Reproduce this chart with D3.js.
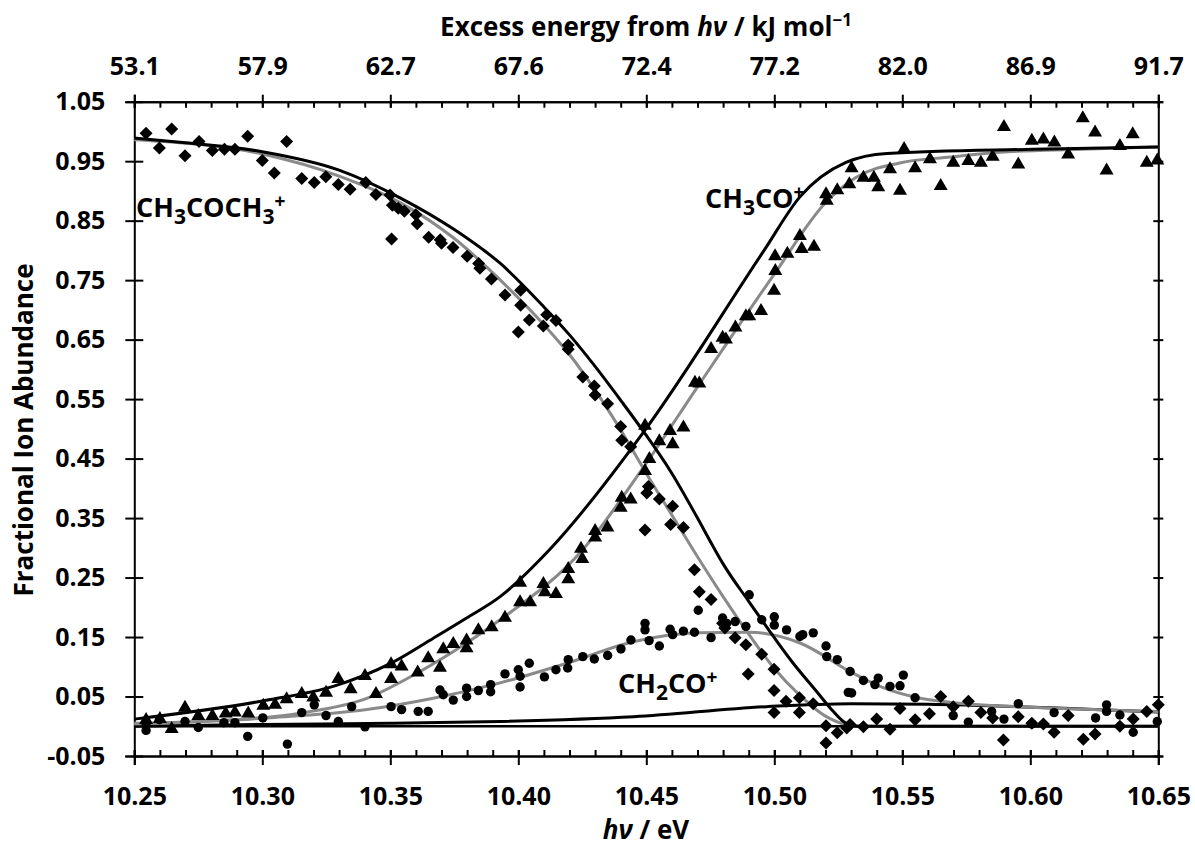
<!DOCTYPE html>
<html>
<head>
<meta charset="utf-8">
<script src="https://cdn.jsdelivr.net/npm/d3@7"></script>
<style>
  body { margin: 0; background: #fff; }
  svg text { font-family: "Open Sans", sans-serif; font-weight: 700; fill: #000; }
</style>
</head>
<body>
<svg width="1195" height="850"></svg>
<script>
// tick labels
var xTicks = [10.25, 10.30, 10.35, 10.40, 10.45, 10.50, 10.55, 10.60, 10.65];
var topLabels = ["53.1", "57.9", "62.7", "67.6", "72.4", "77.2", "82.0", "86.9", "91.7"];
var yTicks = [-0.05, 0.05, 0.15, 0.25, 0.35, 0.45, 0.55, 0.65, 0.75, 0.85, 0.95, 1.05];

// CH3COCH3+ (diamonds)
var acetone = [
  [10.2546,0.997],[10.2598,0.972],[10.2646,1.004],[10.2698,0.959],[10.2753,0.983],
  [10.2805,0.968],[10.2852,0.970],[10.2893,0.970],[10.2943,0.992],[10.3000,0.951],
  [10.3047,0.930],[10.3095,0.983],[10.3154,0.921],[10.3203,0.914],[10.3248,0.924],
  [10.3297,0.911],[10.3343,0.903],[10.3404,0.914],[10.3444,0.894],[10.3499,0.893],
  [10.3508,0.876],[10.3505,0.819],[10.3531,0.871],[10.3555,0.866],[10.3600,0.860],
  [10.3605,0.845],[10.3650,0.822],[10.3695,0.818],[10.3700,0.812],[10.3745,0.805],
  [10.3800,0.790],[10.3845,0.778],[10.3850,0.770],[10.3895,0.752],
  [10.3948,0.725],[10.4009,0.733],[10.4009,0.708],[10.4043,0.683],[10.4000,0.663],
  [10.4098,0.673],[10.4111,0.692],[10.4147,0.682],[10.4195,0.641],[10.4195,0.634],
  [10.4252,0.587],[10.4297,0.572],[10.4300,0.557],[10.4349,0.542],[10.4400,0.504],
  [10.4404,0.481],[10.4439,0.470],[10.4508,0.403],[10.4502,0.392],[10.4551,0.382],
  [10.4603,0.370],[10.4495,0.330],[10.4595,0.339],[10.4645,0.334],
  [10.4688,0.263],[10.4707,0.226],[10.4753,0.213],[10.4798,0.173],[10.4807,0.165],
  [10.4847,0.149],[10.4889,0.137],[10.4898,0.088],[10.4951,0.121],[10.4999,0.096],
  [10.4999,0.060],[10.4999,0.023],[10.5046,0.042],[10.5098,0.048],[10.5098,0.023],
  [10.5152,0.038],[10.5202,0.001],[10.5202,-0.028],[10.5246,-0.011],[10.5283,-0.003],
  [10.5296,0.003],[10.5348,-0.001],[10.5400,0.012],[10.5452,-0.005],[10.5491,0.030],
  [10.5550,0.011],[10.5606,0.021],[10.5650,0.050],[10.5699,0.033],[10.5758,0.042],
  [10.5807,0.023],[10.5853,0.014],[10.5895,-0.023],[10.5953,0.016],[10.6006,0.005],
  [10.6051,0.004],[10.6093,-0.010],[10.6148,0.018],[10.6207,-0.022],[10.6253,-0.013],
  [10.6350,0.000],[10.6402,0.012],[10.6455,0.025],[10.6500,0.036]
];

// CH3CO+ (triangles)
var acetyl = [
  [10.2546,0.012],[10.2600,0.014],[10.2646,-0.003],[10.2698,0.033],[10.2750,0.019],
  [10.2805,0.019],[10.2857,0.023],[10.2893,0.025],[10.2945,0.023],[10.3004,0.036],
  [10.3050,0.038],[10.3095,0.047],[10.3154,0.056],[10.3199,0.050],[10.3249,0.058],
  [10.3297,0.081],[10.3345,0.064],[10.3401,0.086],[10.3444,0.056],[10.3503,0.106],
  [10.3503,0.081],[10.3544,0.102],[10.3607,0.092],[10.3648,0.116],[10.3694,0.100],
  [10.3707,0.131],[10.3746,0.140],[10.3798,0.133],[10.3798,0.146],[10.3844,0.163],
  [10.3896,0.168],[10.3948,0.184],[10.4007,0.243],[10.4007,0.210],[10.4046,0.210],
  [10.4098,0.241],[10.4104,0.227],[10.4147,0.224],[10.4195,0.266],[10.4195,0.249],
  [10.4245,0.300],[10.4250,0.283],
  [10.4300,0.330],[10.4300,0.319],[10.4348,0.336],[10.4404,0.386],[10.4439,0.383],
  [10.4400,0.369],[10.4495,0.507],[10.4512,0.451],[10.4495,0.431],[10.4551,0.481],
  [10.4593,0.498],[10.4603,0.476],[10.4645,0.504],[10.4690,0.579],[10.4707,0.578],
  [10.4753,0.636],[10.4798,0.655],[10.4811,0.652],[10.4848,0.672],[10.4889,0.691],
  [10.4902,0.691],[10.4948,0.700],[10.4999,0.734],[10.5004,0.767],[10.5003,0.792],
  [10.5051,0.796],[10.5100,0.826],[10.5107,0.804],[10.5155,0.808],
  [10.5202,0.896],[10.5205,0.885],[10.5246,0.903],[10.5293,0.913],[10.5302,0.940],
  [10.5348,0.924],[10.5389,0.924],[10.5406,0.908],[10.5452,0.938],[10.5491,0.902],
  [10.5507,0.972],[10.5550,0.940],[10.5608,0.955],[10.5650,0.910],[10.5699,0.949],
  [10.5758,0.952],[10.5807,0.949],[10.5853,0.959],[10.5897,1.009],[10.5953,0.946],
  [10.6006,0.986],[10.6051,0.988],[10.6094,0.983],[10.6148,0.963],[10.6205,1.024],
  [10.6253,1.000],[10.6298,0.936],[10.6350,0.977],[10.6400,0.997],[10.6455,0.949],
  [10.6496,0.953]
];

// CH2CO+ (circles)
var ketene = [
  [10.2546,-0.007],[10.2546,0.004],[10.2598,0.011],[10.2698,0.008],[10.2750,-0.002],
  [10.2850,0.006],[10.2893,0.006],[10.2943,-0.017],[10.3002,0.014],[10.3098,-0.030],
  [10.3154,0.023],[10.3203,0.036],[10.3249,0.018],[10.3297,0.008],[10.3349,0.033],
  [10.3401,-0.001],[10.3503,0.033],[10.3544,0.028],[10.3609,0.025],[10.3648,0.025],
  [10.3694,0.061],[10.3707,0.053],[10.3746,0.044],[10.3798,0.064],[10.3798,0.050],
  [10.3844,0.060],[10.3892,0.070],[10.3892,0.058],
  [10.3948,0.088],[10.4000,0.095],[10.4007,0.084],[10.4007,0.066],[10.4043,0.106],
  [10.4102,0.083],[10.4147,0.095],[10.4193,0.098],[10.4195,0.112],[10.4252,0.117],
  [10.4297,0.113],[10.4349,0.119],[10.4401,0.130],[10.4440,0.145],[10.4495,0.173],
  [10.4495,0.162],[10.4511,0.144],[10.4551,0.135],[10.4593,0.163],[10.4603,0.154],
  [10.4645,0.160],[10.4688,0.158],[10.4703,0.195],[10.4753,0.149],[10.4798,0.182],
  [10.4814,0.173],[10.4847,0.176],[10.4889,0.168],[10.4902,0.221],[10.4951,0.179],
  [10.5000,0.184],[10.5000,0.170],[10.5048,0.162],[10.5100,0.151],[10.5111,0.154],
  [10.5152,0.157],[10.5202,0.135],[10.5205,0.117],[10.5246,0.112],[10.5289,0.057],
  [10.5296,0.092],[10.5302,0.056],[10.5348,0.077],[10.5393,0.070],[10.5406,0.081],
  [10.5452,0.067],[10.5491,0.068],[10.5504,0.086],[10.5550,0.048],[10.5699,0.018],
  [10.5758,0.007],[10.5849,0.025],[10.5897,0.012],[10.5953,0.038],[10.6006,0.004],
  [10.6093,0.023],[10.6255,0.014],[10.6298,0.036],[10.6298,0.025],[10.6350,0.019],
  [10.6402,-0.010],[10.6496,0.008]
];

// fitted / modelled curves
var acetoneFitBlack = [[10.25,0.989],[10.27,0.981],[10.30,0.966],[10.33,0.935],[10.354,0.888],
  [10.375,0.835],[10.393,0.778],[10.41,0.705],[10.42,0.658],[10.43,0.605],[10.44,0.548],
  [10.449,0.495],[10.46,0.425],[10.47,0.350],[10.476,0.303],[10.48,0.273],[10.49,0.210],
  [10.497,0.167],[10.507,0.108],[10.517,0.056],[10.522,0.030],[10.527,0.008],[10.532,0.0],
  [10.55,0.0],[10.65,0.0]];
var acetoneFitGray = [[10.25,0.986],[10.30,0.962],[10.33,0.925],[10.354,0.880],[10.375,0.820],
  [10.393,0.750],[10.41,0.675],[10.42,0.625],[10.43,0.565],[10.44,0.498],[10.45,0.425],
  [10.46,0.355],[10.47,0.285],[10.48,0.218],[10.49,0.155],[10.50,0.097],[10.51,0.052],
  [10.52,0.017],[10.528,0.003],[10.535,0.0],[10.55,0.0],[10.65,0.0]];
var acetylFitBlack = [[10.25,0.012],[10.302,0.044],[10.3277,0.067],[10.3503,0.106],[10.3668,0.148],
  [10.3798,0.182],[10.3929,0.218],[10.412,0.296],[10.449,0.495],[10.496,0.800],[10.510,0.890],
  [10.528,0.948],[10.544,0.963],[10.601,0.970],[10.65,0.974]];
var acetylFitGray = [[10.25,0.005],[10.2757,0.008],[10.3147,0.022],[10.3408,0.047],[10.3603,0.089],
  [10.3798,0.140],[10.3929,0.179],[10.425,0.296],[10.449,0.436],[10.471,0.577],[10.500,0.760],
  [10.520,0.880],[10.532,0.923],[10.549,0.947],[10.569,0.957],[10.588,0.965],[10.62,0.970],[10.65,0.974]];
var keteneFitGray = [[10.25,0.004],[10.302,0.014],[10.3408,0.028],[10.3668,0.047],[10.3929,0.073],
  [10.419,0.106],[10.445,0.142],[10.471,0.157],[10.490,0.158],[10.510,0.140],[10.530,0.091],
  [10.543,0.064],[10.556,0.048],[10.569,0.040],[10.60,0.032],[10.65,0.025]];
var keteneFitBlack = [[10.25,0.0],[10.30,0.003],[10.35,0.005],[10.393,0.008],[10.445,0.016],
  [10.497,0.033],[10.53,0.038],[10.56,0.037],[10.608,0.031],[10.65,0.024]];
var zeroLine = [[10.25,0],[10.65,0]];

var svg = d3.select("svg");
svg.append("rect").attr("width", 1195).attr("height", 850).attr("fill", "#fff");

var x = d3.scaleLinear().domain([10.25, 10.65]).range([134.3, 1158.3]);
var y = d3.scaleLinear().domain([-0.05, 1.05]).range([756, 101.7]);

var minorTicks = d3.range(0, 41).map(function(i) { return 10.25 + i * 0.01; });
var fmt2 = function(d) { return d3.format(".2f")(d).replace("−", "-"); };

// minor ticks (inside)
svg.append("g").attr("transform", "translate(0," + y(-0.05) + ")")
  .call(d3.axisBottom(x).tickValues(minorTicks).tickSize(-6).tickFormat(""));
svg.append("g").attr("transform", "translate(0," + y(1.05) + ")")
  .call(d3.axisTop(x).tickValues(minorTicks).tickSize(-6).tickFormat(""));

// bottom axis
var gb = svg.append("g").attr("transform", "translate(0," + y(-0.05) + ")")
  .call(d3.axisBottom(x).tickValues(xTicks).tickSize(9).tickPadding(22).tickFormat(fmt2));
gb.selectAll(".tick line").attr("y1", -6);

// top axis
var gt = svg.append("g").attr("transform", "translate(0," + y(1.05) + ")")
  .call(d3.axisTop(x).tickValues(xTicks).tickSize(7).tickPadding(20)
    .tickFormat(function(d, i) { return topLabels[i]; }));
gt.selectAll(".tick line").attr("y1", 6);

// left axis
var gl = svg.append("g").attr("transform", "translate(" + x(10.25) + ",0)")
  .call(d3.axisLeft(y).tickValues(yTicks).tickSize(9).tickPadding(20).tickFormat(fmt2));
gl.selectAll(".tick line").attr("x1", 9);

// right axis
var gr = svg.append("g").attr("transform", "translate(" + x(10.65) + ",0)")
  .call(d3.axisRight(y).tickValues(yTicks).tickSize(5).tickFormat(""));
gr.selectAll(".tick line").attr("x1", -5);

svg.selectAll(".domain").attr("stroke", "#000").attr("stroke-width", 2);
svg.selectAll(".tick line").attr("stroke", "#000").attr("stroke-width", 2);
svg.selectAll(".tick text").attr("font-size", 25).attr("font-family", "Open Sans")
  .attr("font-weight", 700).attr("fill", "#000");

// curves
var line = d3.line()
  .x(function(d) { return x(d[0]); })
  .y(function(d) { return y(d[1]); })
  .curve(d3.curveMonotoneX);

var curves = [
  { data: zeroLine, color: "#000", w: 2.5 },
  { data: keteneFitBlack, color: "#000", w: 3 },
  { data: acetoneFitGray, color: "#8a8a8a", w: 3 },
  { data: acetylFitGray, color: "#8a8a8a", w: 3 },
  { data: keteneFitGray, color: "#8a8a8a", w: 3 },
  { data: acetoneFitBlack, color: "#000", w: 3 },
  { data: acetylFitBlack, color: "#000", w: 3 }
];
svg.append("g").selectAll("path").data(curves).enter().append("path")
  .attr("d", function(d) { return line(d.data); })
  .attr("fill", "none")
  .attr("stroke", function(d) { return d.color; })
  .attr("stroke-width", function(d) { return d.w; });

// markers
svg.append("g").selectAll("circle").data(ketene).enter().append("circle")
  .attr("cx", function(d) { return x(d[0]); })
  .attr("cy", function(d) { return y(d[1]); })
  .attr("r", 4.7).attr("fill", "#000");

svg.append("g").selectAll("path").data(acetone).enter().append("path")
  .attr("d", "M0,-6.5L6.5,0L0,6.5L-6.5,0Z")
  .attr("transform", function(d) { return "translate(" + x(d[0]) + "," + y(d[1]) + ")"; })
  .attr("fill", "#000");

svg.append("g").selectAll("path").data(acetyl).enter().append("path")
  .attr("d", "M0,-7L7,5L-7,5Z")
  .attr("transform", function(d) { return "translate(" + x(d[0]) + "," + y(d[1]) + ")"; })
  .attr("fill", "#000");

// series labels: parts are [text, offset from baseline, size]
function chemLabel(px, py, parts) {
  var t = svg.append("text").attr("x", px).attr("y", py).attr("font-size", 27);
  var prev = 0;
  parts.forEach(function(p) {
    var off = p[1] || 0;
    t.append("tspan").text(p[0]).attr("dy", off - prev).attr("font-size", p[2] || 27);
    prev = off;
  });
}
chemLabel(136, 217, [["CH"], ["3", 7, 21], ["COCH", 0], ["3", 7, 21], ["+", -9, 19]]);
chemLabel(705, 208, [["CH"], ["3", 7, 21], ["CO", 0], ["+", -9, 19]]);
chemLabel(618, 693, [["CH"], ["2", 7, 21], ["CO", 0], ["+", -9, 19]]);

// axis titles
var tx = svg.append("text").attr("x", 646).attr("y", 839).attr("text-anchor", "middle")
  .attr("font-size", 26);
tx.append("tspan").attr("font-style", "italic").text("hν");
tx.append("tspan").text(" / eV");

var tt = svg.append("text").attr("x", 646).attr("y", 36).attr("text-anchor", "middle")
  .attr("font-size", 26);
tt.append("tspan").text("Excess energy from ");
tt.append("tspan").attr("font-style", "italic").text("hν");
tt.append("tspan").text(" / kJ mol");
tt.append("tspan").attr("font-size", 17).attr("dy", -10).text("−1");

svg.append("text")
  .attr("transform", "translate(33,430) rotate(-90)")
  .attr("text-anchor", "middle").attr("font-size", 26)
  .text("Fractional Ion Abundance");
</script>
</body>
</html>
